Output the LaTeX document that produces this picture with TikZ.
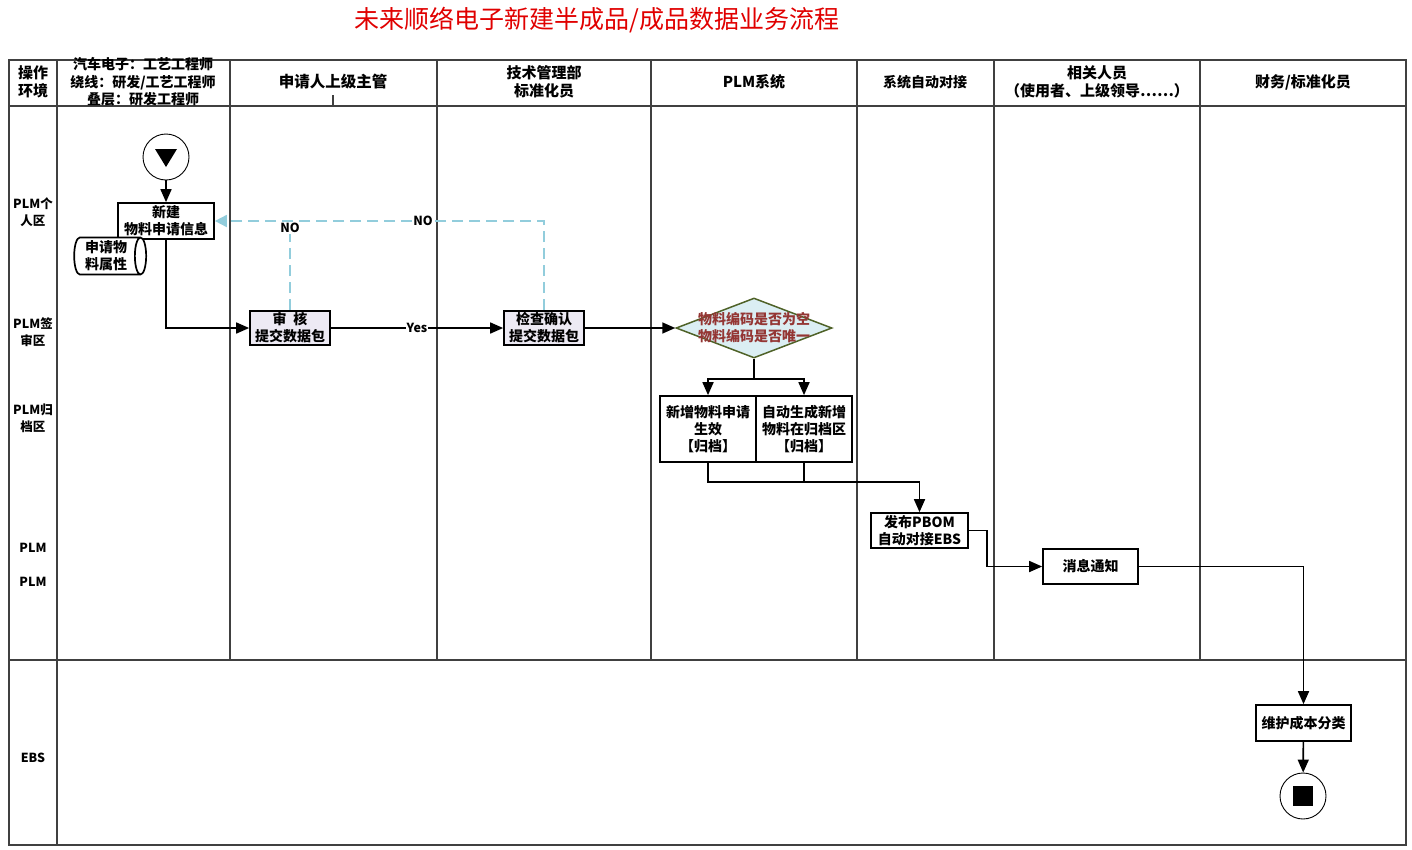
\documentclass[tikz,border=0pt]{standalone}
\usepackage{fontspec}
\setmainfont{Noto Sans CJK SC}
\usetikzlibrary{arrows.meta,shapes.geometric,calc}
\definecolor{titlered}{HTML}{E00000}
\definecolor{lav}{HTML}{EDEAF4}
\definecolor{dfill}{HTML}{DBEEF3}
\definecolor{dborder}{HTML}{4F6228}
\definecolor{dtext}{HTML}{943634}
\definecolor{nocol}{HTML}{92CDDC}
\definecolor{grid}{HTML}{404040}
\tikzset{
  proc/.style={draw, line width=1.7pt, fill=white, align=center, inner sep=1pt,
    font=\bfseries\fontsize{14}{17}\selectfont},
  hdr/.style={align=center, font=\bfseries\fontsize{15}{18}\selectfont},
  lane/.style={align=center, font=\bfseries\fontsize{12.5}{17}\selectfont},
  arr/.style={line width=1.7pt, -{Triangle[length=13pt,width=11pt]}},
  conn/.style={line width=1.7pt},
  dsh/.style={line width=1.8pt, color=nocol, dash pattern=on 11pt off 6pt},
  lbl/.style={fill=white, inner sep=1pt, font=\bfseries\fontsize{12.5}{14}\selectfont},
  tbl/.style={draw=grid, line width=1.1pt}
}
\begin{document}
\begin{tikzpicture}[x=1pt,y=-1pt]
\useasboundingbox (0,0) rectangle (1412,849);
% title
\node[text=titlered, font=\fontsize{25}{29}\selectfont] (title) at (597,20) {未来顺络电子新建半成品/成品数据业务流程};
% table
\draw[tbl] (9,60) rectangle (1406,845);
\draw[tbl] (9,106) -- (1406,106);
\draw[tbl] (9,660) -- (1406,660);
\draw[tbl] (57,60) -- (57,845);
\foreach \xx in {230,437,651,857,994,1200} \draw[tbl] (\xx,60) -- (\xx,660);
\draw[tbl] (333,95) -- (333,106);
\draw[draw=grid, line width=2.2pt] (994,106) -- (1200,106);
% headers
\node[hdr] (h0) at (33,82) {操作\\环境};
\node[hdr, font=\bfseries\fontsize{14}{17.5}\selectfont] (h1) at (143,82) {汽车电子：工艺工程师\\绕线：研发/工艺工程师\\叠层：研发工程师};
\node[hdr, font=\bfseries\fontsize{15.5}{18}\selectfont] (h2) at (333,82) {申请人上级主管};
\node[hdr] (h3) at (544,82) {技术管理部\\标准化员};
\node[hdr] (h4) at (754,82) {PLM系统};
\node[hdr, font=\bfseries\fontsize{14}{18}\selectfont] (h5) at (925,82) {系统自动对接};
\node[hdr] (h6) at (1097,82) {相关人员\\（使用者、上级领导……）};
\node[hdr] (h7) at (1303,82) {财务/标准化员};
% lane labels
\node[lane] (l1) at (33,212) {PLM个\\人区};
\node[lane] (l2) at (33,332) {PLM签\\审区};
\node[lane] (l3) at (33,418) {PLM归\\档区};
\node[lane] (l4) at (33,548) {PLM};
\node[lane] (l5) at (33,582) {PLM};
\node[lane] (l6) at (33,758) {EBS};
% start / end
\node[draw, circle, line width=0.9pt, minimum size=46pt, inner sep=0] (start) at (166,157) {};
\fill ([shift={(-11,-8)}]start.center) -- ++(22,0) -- ++(-11,18) -- cycle;
\node[draw, circle, line width=0.9pt, minimum size=46pt, inner sep=0] (end) at (1303,796) {};
\fill ([shift={(-10,-10)}]end.center) rectangle ++(20,20);
% process nodes
\node[proc, minimum width=96pt, minimum height=36pt] (new) at (166,221) {新建\\物料申请信息};
\node[draw, line width=1.7pt, cylinder, shape aspect=0.35, fill=white, align=center, inner sep=1pt,
  minimum width=37pt, minimum height=72pt, font=\bfseries\fontsize{14}{17}\selectfont] (attr) at (106,256) {申请物\\料属性};
\node[proc, fill=lav, minimum width=80pt, minimum height=34pt] (audit) at (290,328) {审\hspace{0.5em}核\\提交数据包};
\node[proc, fill=lav, minimum width=80pt, minimum height=34pt] (check) at (544,328) {检查确认\\提交数据包};
\node[diamond, draw=dborder, fill=dfill, line width=1.5pt, inner sep=0, aspect=2.6,
  minimum width=156pt, minimum height=60pt] (dia) at (754,328) {};
\node[align=center, text=dtext, font=\bfseries\fontsize{14}{17}\selectfont] (diatext) at (dia.center) {物料编码是否为空\\物料编码是否唯一};
\node[proc, minimum width=96pt, minimum height=66pt] (b1) at (708,429) {新增物料申请\\生效\\【归档】};
\node[proc, minimum width=96pt, minimum height=66pt] (b2) at (804,429) {自动生成新增\\物料在归档区\\【归档】};
\node[proc, minimum width=97pt, minimum height=35pt] (pbom) at (919.5,530.5) {发布PBOM\\自动对接EBS};
\node[proc, minimum width=95pt, minimum height=35pt] (msg) at (1090.5,566.5) {消息通知};
\node[proc, minimum width=95pt, minimum height=36pt] (wh) at (1303.5,723) {维护成本分类};
% connectors
\draw[arr] (start) -- (new);
\draw[arr] (new.south) |- (audit.west);
\draw[arr] (audit) -- node[lbl] (yes) {Yes} (check);
\draw[arr] (check) -- (dia);
\coordinate (sp) at ($(dia.south)+(0,20)$);
\draw[conn] (dia.south) -- (sp);
\draw[arr] (sp) -| (b1.north);
\draw[arr] (sp) -| (b2.north);
\coordinate (mg) at (919.5,482);
\draw[arr] (b1.south) |- (mg) -- (pbom.north);
\draw[conn] (b2.south) -- (b2.south |- mg);
\draw[arr] (pbom.east) -- ++(18,0) |- (msg.west);
\draw[arr] (msg.east) -| (wh.north);
\draw[arr] (wh) -- (end);
% NO loops
\draw[dsh, -{Triangle[length=12pt,width=12pt]}] (check.north) |- (new.east);
\draw[dsh] (audit.north) -- (audit.north |- new.east);
\node[lbl] (no1) at (290,228) {NO};
\node[lbl] (no2) at (423,221) {NO};
\end{tikzpicture}
\end{document}
